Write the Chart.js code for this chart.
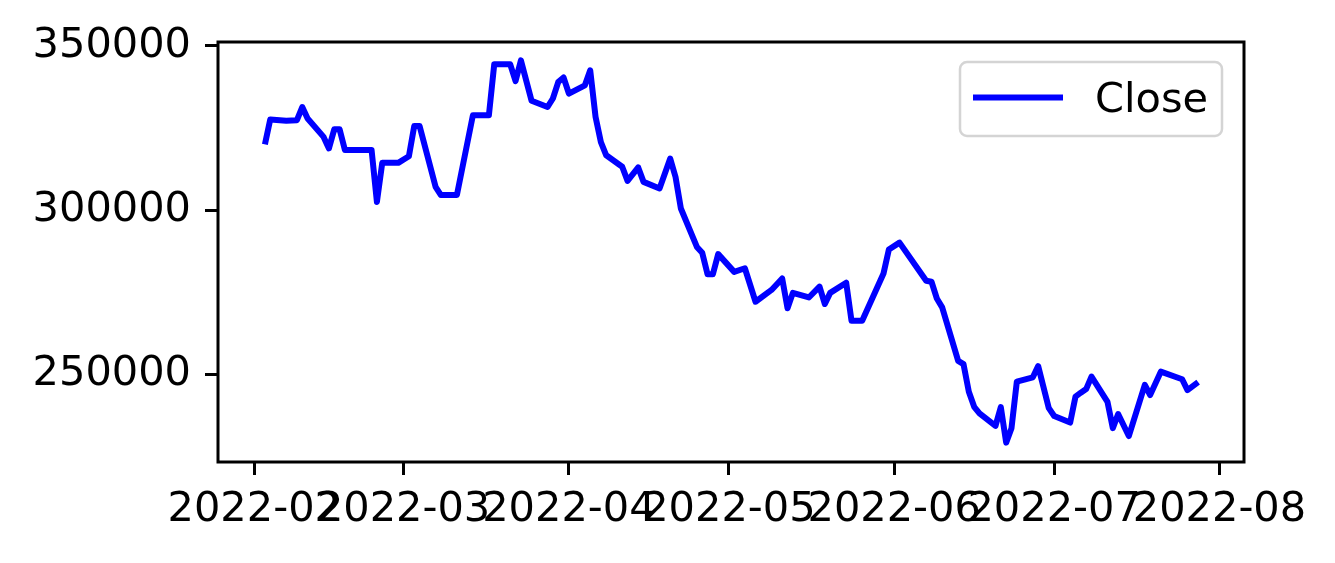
<!DOCTYPE html>
<html>
<head>
<meta charset="utf-8">
<script src="https://cdn.jsdelivr.net/npm/chart.js@4"></script>
<style>
  html, body { margin: 0; padding: 0; background: #fff; }
  #wrap { width: 1335px; height: 563px; }
</style>
</head>
<body>
<div id="wrap"><canvas id="closeChart" width="1335" height="563"></canvas></div>
<script>
// trading days
const dates = [
    '2022-02-03','2022-02-04','2022-02-07','2022-02-09','2022-02-10','2022-02-11','2022-02-14','2022-02-15',
    '2022-02-16','2022-02-17','2022-02-18','2022-02-23','2022-02-24','2022-02-25','2022-02-28','2022-03-02',
    '2022-03-03','2022-03-04','2022-03-07','2022-03-08','2022-03-11','2022-03-14','2022-03-17','2022-03-18',
    '2022-03-21','2022-03-22','2022-03-23','2022-03-25','2022-03-28','2022-03-29','2022-03-30','2022-03-31',
    '2022-04-01','2022-04-04','2022-04-05','2022-04-06','2022-04-07','2022-04-08','2022-04-11','2022-04-12',
    '2022-04-14','2022-04-15','2022-04-18','2022-04-20','2022-04-21','2022-04-22','2022-04-25','2022-04-26',
    '2022-04-27','2022-04-28','2022-04-29','2022-05-02','2022-05-04','2022-05-06','2022-05-09','2022-05-11',
    '2022-05-12','2022-05-13','2022-05-16','2022-05-18','2022-05-19','2022-05-20','2022-05-23','2022-05-24',
    '2022-05-26','2022-05-30','2022-05-31','2022-06-02','2022-06-07','2022-06-08','2022-06-09','2022-06-10',
    '2022-06-13','2022-06-14','2022-06-15','2022-06-16','2022-06-17','2022-06-20','2022-06-21','2022-06-22',
    '2022-06-23','2022-06-24','2022-06-27','2022-06-28','2022-06-30','2022-07-01','2022-07-04','2022-07-05',
    '2022-07-06','2022-07-07','2022-07-08','2022-07-11','2022-07-12','2022-07-13','2022-07-15','2022-07-18',
    '2022-07-19','2022-07-21','2022-07-25','2022-07-26','2022-07-28'
];
const closeValues = [
    320000, 327600, 327200, 327400, 331400, 327900, 322300, 318800,
    324600, 324600, 318300, 318300, 302500, 314400, 314400, 316400,
    325600, 325600, 307100, 304600, 304600, 328900, 328900, 344400,
    344400, 339300, 345600, 333300, 331400, 334000, 339000, 340400,
    335500, 338000, 342600, 328400, 320700, 316700, 313200, 308900,
    313000, 308600, 306600, 315700, 310100, 300500, 288800, 287000,
    280500, 280500, 286600, 281200, 282300, 272100, 275700, 279200,
    270100, 274800, 273400, 276700, 271400, 274800, 277900, 266300,
    266300, 280700, 288000, 290100, 278500, 278200, 273100, 270400,
    254100, 253100, 244700, 240100, 238100, 234300, 240000, 229200,
    233600, 247800, 249100, 252500, 239700, 237300, 235300, 243200,
    244400, 245500, 249300, 241600, 233600, 237900, 231200, 246800,
    243700, 250800, 248500, 245200, 247600
];
const tickDates = ['2022-02-01','2022-03-01','2022-04-01','2022-05-01','2022-06-01','2022-07-01','2022-08-01'];
const tickLabels = ['2022-02','2022-03','2022-04','2022-05','2022-06','2022-07','2022-08'];
const yTicks = [250000, 300000, 350000];
const seriesLabel = 'Close';

// days since 2022-02-01
const base = Date.UTC(2022, 1, 1);
function dayNum(s) {
    const [y, m, d] = s.split('-').map(Number);
    return (Date.UTC(y, m - 1, d) - base) / 86400000;
}
const tickDays = tickDates.map(dayNum);
const points = dates.map((d, i) => ({ x: dayNum(d), y: closeValues[i] }));

Chart.defaults.font.family = "'DejaVu Sans', sans-serif";
Chart.defaults.font.size = 41.5;
Chart.defaults.color = '#000';

const frameAndLegend = {
    id: 'frameAndLegend',
    afterDraw(chart) {
        const { ctx, chartArea: a } = chart;
        ctx.save();
        // spines
        ctx.strokeStyle = '#000';
        ctx.lineWidth = 3;
        ctx.strokeRect(a.left, a.top, a.right - a.left, a.bottom - a.top);

        // matplotlib-like legend box, upper right
        const ds = chart.data.datasets[0];
        const bw = 262, bh = 74;
        const bx = a.right - 22 - bw, by = a.top + 20;
        ctx.beginPath();
        ctx.roundRect(bx, by, bw, bh, 7);
        ctx.fillStyle = 'rgba(255,255,255,0.8)';
        ctx.fill();
        ctx.strokeStyle = '#d4d4d4';
        ctx.lineWidth = 2.5;
        ctx.stroke();

        ctx.beginPath();
        ctx.moveTo(bx + 13, by + 35.5);
        ctx.lineTo(bx + 103, by + 35.5);
        ctx.strokeStyle = ds.borderColor;
        ctx.lineWidth = 6;
        ctx.stroke();

        ctx.fillStyle = '#000';
        ctx.font = "41.5px 'DejaVu Sans', sans-serif";
        ctx.textBaseline = 'alphabetic';
        ctx.textAlign = 'left';
        ctx.fillText(ds.label, bx + 135, by + 50);
        ctx.restore();
    }
};

new Chart(document.getElementById('closeChart').getContext('2d'), {
    type: 'line',
    data: {
        datasets: [{
            label: seriesLabel,
            data: points,
            borderColor: '#0000ff',
            borderWidth: 6,
            borderJoinStyle: 'round',
            tension: 0,
            pointRadius: 0,
            fill: false
        }]
    },
    options: {
        responsive: false,
        animation: false,
        events: [],
        layout: { padding: { top: 42, right: 91, left: 0, bottom: 0 } },
        plugins: { legend: { display: false }, tooltip: { enabled: false } },
        scales: {
            x: {
                type: 'linear',
                min: -6.8,
                max: 185.6,
                afterBuildTicks: s => { s.ticks = tickDays.map(v => ({ value: v })); },
                afterFit: s => { s.height = 101; },
                grid: { display: true, drawOnChartArea: false, drawTicks: true, tickLength: 13, color: '#000', lineWidth: 3 },
                border: { display: false },
                ticks: {
                    padding: 10,
                    maxRotation: 0,
                    autoSkip: false,
                    callback: v => tickLabels[tickDays.indexOf(v)]
                }
            },
            y: {
                type: 'linear',
                min: 223300,
                max: 351200,
                afterBuildTicks: s => { s.ticks = yTicks.map(v => ({ value: v })); },
                afterFit: s => { s.width = 218; },
                grid: { display: true, drawOnChartArea: false, drawTicks: true, tickLength: 13, color: '#000', lineWidth: 3 },
                border: { display: false },
                ticks: { padding: 14, callback: v => String(v) }
            }
        }
    },
    plugins: [frameAndLegend]
});
</script>
</body>
</html>
